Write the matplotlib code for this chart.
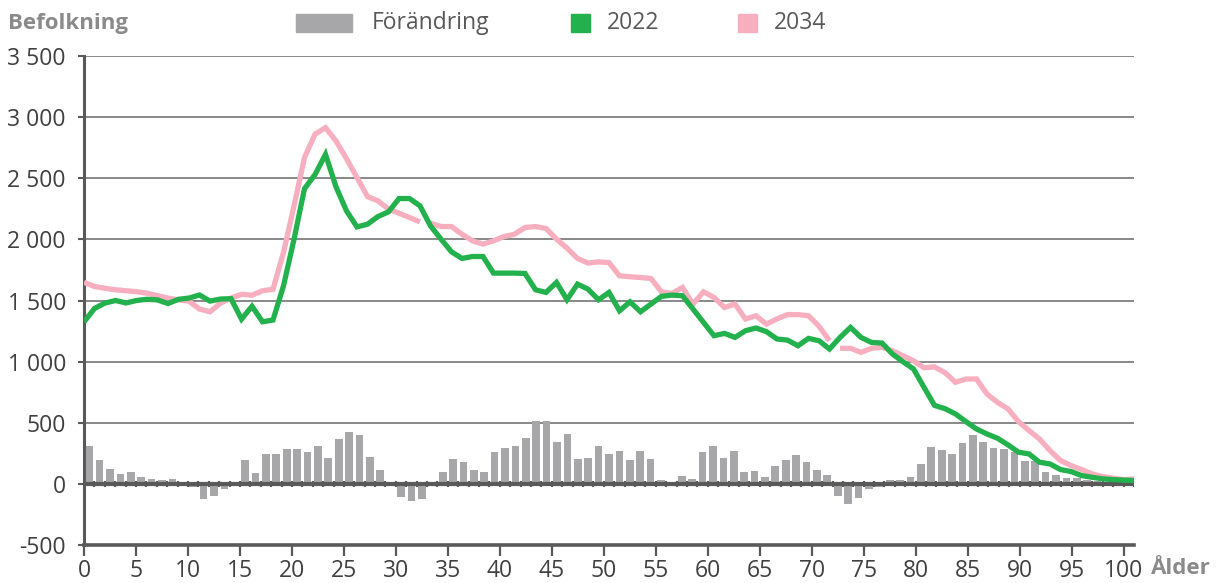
import numpy as np
import matplotlib
matplotlib.use("Agg")
import matplotlib.pyplot as plt
from matplotlib.patches import Rectangle

plt.rcParams['font.family'] = ['Open Sans', 'DejaVu Sans']

ages = list(range(0, 101))
tick_ages = list(range(0, 101, 5))

pop_2022 = [1325, 1435, 1479, 1500, 1480, 1500, 1510, 1505, 1475, 1510,
            1520, 1545, 1495, 1512, 1515, 1348, 1453, 1326, 1340, 1620,
            2000, 2415, 2530, 2695, 2430, 2233, 2102, 2124, 2187, 2225,
            2334, 2334, 2274, 2110, 2002, 1898, 1844, 1860, 1860, 1724,
            1724, 1724, 1721, 1588, 1566, 1648, 1506, 1634, 1593, 1506,
            1566, 1416, 1489, 1408, 1471, 1534, 1544, 1539, 1430, 1321,
            1212, 1231, 1198, 1253, 1275, 1245, 1185, 1176, 1130, 1190,
            1171, 1103, 1198, 1280, 1198, 1157, 1152, 1062, 999, 940,
            790, 642, 615, 572, 509, 449, 408, 373, 319, 259,
            245, 177, 163, 117, 101, 68, 54, 41, 35, 31,
            27]

pop_2034 = [1648, 1615, 1600, 1588, 1580, 1572, 1560, 1540, 1520, 1505,
            1494, 1430, 1408, 1478, 1520, 1551, 1543, 1580, 1592, 1893,
            2274, 2669, 2860, 2914, 2805, 2660, 2506, 2350, 2315, 2247,
            2214, 2179, 2143, 2132, 2105, 2105, 2042, 1988, 1961, 1988,
            2023, 2042, 2097, 2105, 2089, 2002, 1928, 1844, 1806, 1816,
            1810, 1702, 1694, 1688, 1680, 1570, 1558, 1607, 1471, 1571,
            1525, 1443, 1471, 1348, 1375, 1307, 1350, 1385, 1385, 1375,
            1290, 1171, 1109, 1109, 1076, 1109, 1117, 1089, 1048, 1007,
            950, 957, 910, 831, 858, 858, 735, 667, 613, 509,
            436, 368, 272, 191, 150, 117, 82, 60, 47, 35,
            40]
# pink series is drawn in separate pieces (breaks before these ages)
pink_breaks = [33, 72]

change = [311, 192, 124, 84, 100, 59, 43, 30, 43, 8,
          -27, -127, -100, -38, 5, 197, 92, 246, 246, 286,
          286, 257, 311, 214, 368, 424, 400, 222, 116, 8,
          -108, -143, -127, 8, 100, 205, 181, 116, 100, 262,
          295, 311, 376, 514, 514, 343, 408, 205, 214, 311,
          246, 270, 197, 270, 205, 35, -5, 68, 43, 262,
          311, 214, 270, 100, 108, 59, 149, 197, 238, 181,
          116, 76, -100, -163, -116, -43, -27, 35, 35, 59,
          165, 303, 278, 246, 335, 400, 343, 295, 286, 257,
          184, 189, 100, 76, 51, 51, 35, 27, 14, 14,
          14]

y_ticks = list(range(-500, 3501, 500))

GREEN = '#22B14C'
PINK = '#F7AEBE'
BARC = '#A7A7AA'
AXC = '#595959'
TXT = '#404040'
LBL = '#8A8A8A'

W, H = 1221, 583
fig = plt.figure(figsize=(W / 100, H / 100), dpi=100)
ax = fig.add_axes([84 / W, 1 - 545 / H, (1134 - 84) / W, (545 - 56) / H])
ax.set_xlim(0, len(ages))
ax.set_ylim(y_ticks[0], y_ticks[-1])

# bars (category slots)
slots = np.arange(len(ages)) + 0.5
ax.bar(slots, change, width=0.74, color=BARC, zorder=2, linewidth=0)

# grid
for v in y_ticks:
    if v not in (y_ticks[0], 0):
        ax.axhline(v, color='#7F7F7F', lw=1.3, zorder=1)
ax.axhline(0, color=AXC, lw=3, zorder=3)
ax.vlines(np.arange(len(ages) + 1), -22, 22, color=AXC, lw=1.6, zorder=3)

ax.set_yticks(y_ticks)
ax.set_yticklabels([f"{v:,}".replace(",", " ") for v in y_ticks])
ax.set_xticks(tick_ages)
ax.set_xticklabels([str(a) for a in tick_ages])
ax.tick_params(axis='y', length=4, width=1.5, color=AXC, labelsize=16.5,
               labelcolor=TXT, pad=9)
ax.tick_params(axis='x', length=8, width=1.6, color=AXC, labelsize=16.5,
               labelcolor=TXT, pad=2)
for s in ('top', 'right'):
    ax.spines[s].set_visible(False)
ax.spines['left'].set_color(AXC)
ax.spines['left'].set_linewidth(2.2)
ax.spines['bottom'].set_color(AXC)
ax.spines['bottom'].set_linewidth(2.6)

# lines on secondary category axis
ax2 = ax.twiny()
ax2.set_xlim(ages[0], ages[-1])
ax2.axis('off')
bounds = [0] + pink_breaks + [len(ages)]
for s, e in zip(bounds[:-1], bounds[1:]):
    ax2.plot(ages[s:e], pop_2034[s:e], color=PINK, lw=3.8,
             solid_joinstyle='miter', solid_capstyle='butt', zorder=4)
ax2.plot(ages, pop_2022, color=GREEN, lw=3.8, solid_joinstyle='miter',
         solid_capstyle='butt', zorder=5)

# titles
fig.text(8 / W, 1 - 23 / H, "Befolkning", fontsize=16, fontweight='bold',
         color=LBL, ha='left', va='center')
fig.text(1151 / W, 1 - 569 / H, "Ålder", fontsize=16, fontweight='bold',
         color=LBL, ha='left', va='center')

# legend (manual)
def leg_patch(x0, x1, color):
    fig.patches.append(Rectangle((x0 / W, 1 - 32 / H), (x1 - x0) / W, 18 / H,
                                 transform=fig.transFigure, color=color,
                                 figure=fig))
leg_patch(296, 352, BARC)
fig.text(372 / W, 1 - 23 / H, "Förändring", fontsize=16.5, color=AXC,
         ha='left', va='center')
leg_patch(571, 590, GREEN)
fig.text(607 / W, 1 - 23 / H, "2022", fontsize=16.5, color=AXC,
         ha='left', va='center')
leg_patch(738, 757, PINK)
fig.text(774 / W, 1 - 23 / H, "2034", fontsize=16.5, color=AXC,
         ha='left', va='center')

fig.savefig("out.png", dpi=100)
